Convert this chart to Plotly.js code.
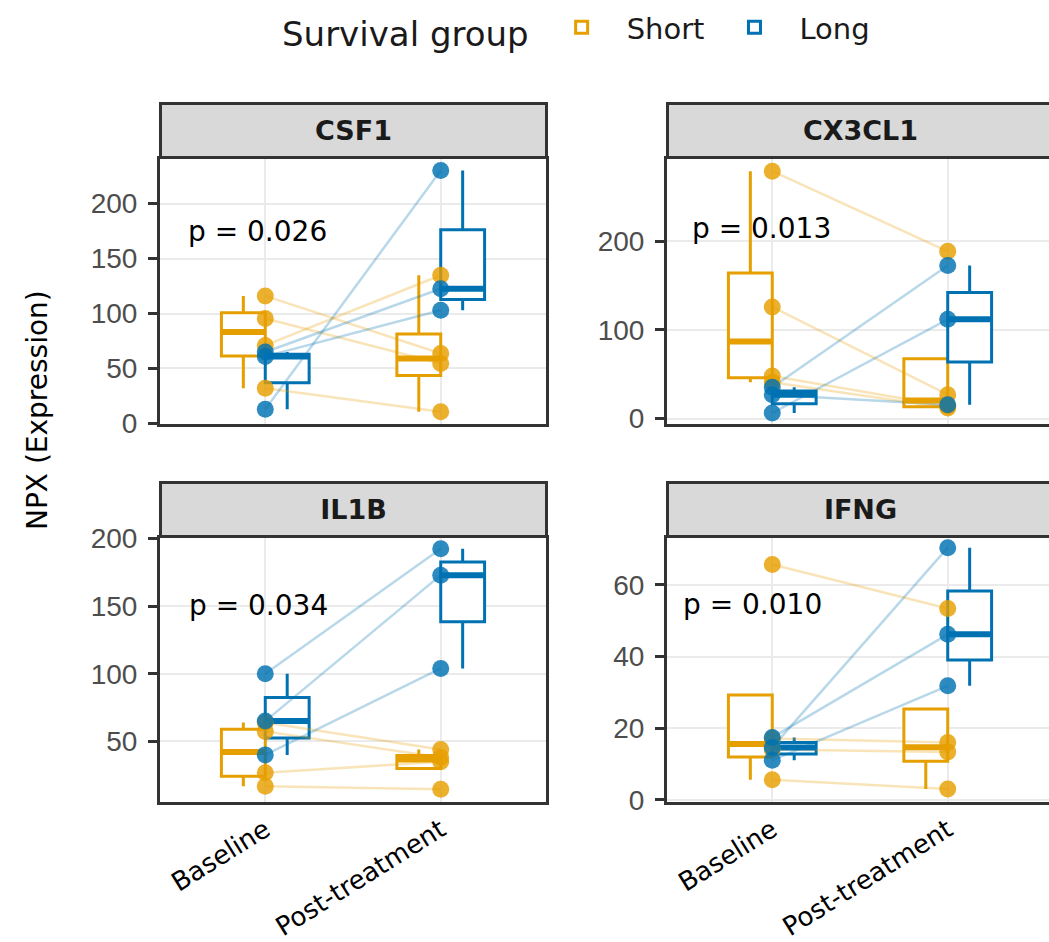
<!DOCTYPE html>
<html>
<head>
<meta charset="utf-8">
<script src="https://cdn.plot.ly/plotly-3.0.1.min.js"></script>
<style>
html,body{margin:0;padding:0;overflow:hidden;background:#fff;}
#chart{width:1056px;height:942px;}
</style>
</head>
<body>
<div id="chart"></div>
<script>
// ---------------- data ----------------
const timepoints = ['Baseline', 'Post-treatment'];
const groups = ['Short', 'Long'];
const genes = ['CSF1', 'CX3CL1', 'IL1B', 'IFNG'];
const pLabels = ['p = 0.026', 'p = 0.013', 'p = 0.034', 'p = 0.010'];

// paired values (same index = same patient)
const CSF1_short_baseline = [116, 95.5, 71, 32];
const CSF1_short_post     = [63.6, 54.5, 134.8, 10.6];
const CSF1_long_baseline  = [13, 61, 65];
const CSF1_long_post      = [230, 103, 122.5];

const CX3CL1_short_baseline = [279, 126, 48, 41];
const CX3CL1_short_post     = [188.7, 27, 14, 12];
const CX3CL1_long_baseline  = [35.5, 6.4, 27];
const CX3CL1_long_post      = [172.6, 112, 15.8];

const IL1B_short_baseline = [64, 57.4, 26.7, 16.8];
const IL1B_short_post     = [44, 38, 35, 14.5];
const IL1B_long_baseline  = [100, 65, 40];
const IL1B_long_post      = [192.6, 173, 104];

const IFNG_short_baseline = [65.7, 17.1, 14, 5.6];
const IFNG_short_post     = [53.4, 16, 13.3, 3.0];
const IFNG_long_baseline  = [14.6, 17.4, 11];
const IFNG_long_post      = [70.4, 46.2, 31.8];

const yTickStep = [50, 100, 50, 20];

// ---------------- style / layout config ----------------
const W = 1056, H = 942;
const colors = {Short: '#E69F00', Long: '#0072B2'};
const pointColors = {Short: 'rgba(230,159,0,0.82)', Long: 'rgba(0,114,178,0.82)'};
const lineColors = {Short: 'rgba(230,159,0,0.28)', Long: 'rgba(0,114,178,0.28)'};
const colPx = [[160, 546], [667, 1053]];
const rowPx = [[158.5, 424], [538, 801.5]];
const yRanges = [[-0.5, 241], [-6, 293.3], [5.5, 200.5], [-0.5, 73.1]];
const pPos = [[0.548, 174.8], [0.529, 214], [0.553, 150.8], [0.482, 54.6]];
const dodge = 0.125, boxW = 0.25;

const dataByGene = {
  CSF1:   {Short: [CSF1_short_baseline, CSF1_short_post], Long: [CSF1_long_baseline, CSF1_long_post]},
  CX3CL1: {Short: [CX3CL1_short_baseline, CX3CL1_short_post], Long: [CX3CL1_long_baseline, CX3CL1_long_post]},
  IL1B:   {Short: [IL1B_short_baseline, IL1B_short_post], Long: [IL1B_long_baseline, IL1B_long_post]},
  IFNG:   {Short: [IFNG_short_baseline, IFNG_short_post], Long: [IFNG_long_baseline, IFNG_long_post]}
};

// type-7 quantile + Tukey whiskers (as ggplot's geom_boxplot)
function q7(s, p) {
  const h = (s.length - 1) * p, lo = Math.floor(h);
  const hi = Math.min(lo + 1, s.length - 1);
  return s[lo] + (h - lo) * (s[hi] - s[lo]);
}
function boxStats(v) {
  const s = v.slice().sort((a, b) => a - b);
  const q1 = q7(s, 0.25), med = q7(s, 0.5), q3 = q7(s, 0.75);
  const iqr = q3 - q1;
  const inside = s.filter(x => x >= q1 - 1.5 * iqr && x <= q3 + 1.5 * iqr);
  return {q1, med, q3, lo: Math.min(...inside), hi: Math.max(...inside)};
}

const annotations = [];
const layout = {
  width: W, height: H,
  margin: {l: 0, r: 0, t: 0, b: 0, pad: 0},
  paper_bgcolor: '#fff', plot_bgcolor: '#fff',
  showlegend: true,
  legend: {
    orientation: 'h', x: 280 / W, xanchor: 'left', y: 1 - 2 / H, yanchor: 'top',
    title: {text: 'Survival group', side: 'left', font: {family: 'DejaVu Sans, sans-serif', size: 34, color: '#1a1a1a'}},
    font: {family: 'DejaVu Sans, sans-serif', size: 29, color: '#1a1a1a'},
    itemwidth: 80, tracegroupgap: 0
  },
  annotations: annotations
};

// line traces first, then boxes, then points
const lineTr = [], boxTr = [], ptTr = [];
genes.forEach((g, i) => {
  const row = Math.floor(i / 2), col = i % 2;
  const ax = i === 0 ? '' : String(i + 1);
  const xa = 'x' + ax, ya = 'y' + ax;
  layout['xaxis' + ax] = {
    domain: [colPx[col][0] / W, colPx[col][1] / W],
    anchor: ya, range: [0.4, 2.6], tickvals: [1, 2], ticktext: timepoints,
    showticklabels: row === 1, tickangle: -32,
    tickfont: {family: 'DejaVu Sans, sans-serif', size: 26, color: '#000'},
    ticks: '', showgrid: true, gridcolor: '#EBEBEB', gridwidth: 2,
    zeroline: false, showline: true, mirror: true, linecolor: '#333333', linewidth: 3,
    fixedrange: true
  };
  layout['yaxis' + ax] = {
    domain: [1 - rowPx[row][1] / H, 1 - rowPx[row][0] / H],
    anchor: xa, range: yRanges[i], dtick: yTickStep[i], tick0: 0,
    tickfont: {family: 'Liberation Sans, Arial, sans-serif', size: 28, color: '#4D4D4D'},
    ticks: 'outside', ticklen: 9, tickwidth: 3, tickcolor: '#333333', ticklabelstandoff: 5,
    showgrid: true, gridcolor: '#EBEBEB', gridwidth: 2,
    zeroline: false, showline: true, mirror: true, linecolor: '#333333', linewidth: 3,
    fixedrange: true
  };
  // strip
  annotations.push({
    xref: xa + ' domain', yref: ya + ' domain', x: 0.5, y: 1, xanchor: 'center', yanchor: 'bottom',
    text: '<b>' + g + '</b>', showarrow: false, width: colPx[col][1] - colPx[col][0] - 3, height: 51,
    bgcolor: '#D9D9D9', bordercolor: '#333333', borderwidth: 3, borderpad: 0,
    font: {family: 'DejaVu Sans, sans-serif', size: 27, color: '#1a1a1a'}
  });
  // p-value
  annotations.push({
    xref: xa, yref: ya, x: pPos[i][0], y: pPos[i][1], xanchor: 'left', yanchor: 'middle',
    text: pLabels[i], showarrow: false,
    font: {family: 'DejaVu Sans, sans-serif', size: 28, color: '#000'}
  });

  groups.forEach((grp, gi) => {
    const [base, post] = dataByGene[g][grp];
    // paired lines
    const lx = [], ly = [];
    base.forEach((b, k) => { lx.push(1, 2, null); ly.push(b, post[k], null); });
    lineTr.push({type: 'scatter', mode: 'lines', x: lx, y: ly, xaxis: xa, yaxis: ya,
      line: {color: lineColors[grp], width: 2.5}, hoverinfo: 'skip', showlegend: false});
    // boxes
    const off = gi === 0 ? -dodge : dodge;
    const st = [boxStats(base), boxStats(post)];
    boxTr.push({
      type: 'box', name: grp, legendgroup: grp, showlegend: i === 0,
      x: [1 + off, 2 + off], q1: st.map(s => s.q1), median: st.map(s => s.med), q3: st.map(s => s.q3),
      lowerfence: st.map(s => s.lo), upperfence: st.map(s => s.hi),
      width: boxW, whiskerwidth: 0, boxpoints: false,
      line: {color: colors[grp], width: 3}, fillcolor: '#ffffff',
      xaxis: xa, yaxis: ya
    });
    // thick median
    const mx = [], my = [];
    st.forEach((s, t) => { mx.push(t + 1 + off - boxW / 2, t + 1 + off + boxW / 2, null); my.push(s.med, s.med, null); });
    boxTr.push({type: 'scatter', mode: 'lines', x: mx, y: my, xaxis: xa, yaxis: ya,
      line: {color: colors[grp], width: 6}, hoverinfo: 'skip', showlegend: false});
    // points
    const px = [], py = [];
    base.forEach(v => { px.push(1); py.push(v); });
    post.forEach(v => { px.push(2); py.push(v); });
    ptTr.push({type: 'scatter', mode: 'markers', x: px, y: py, xaxis: xa, yaxis: ya,
      marker: {color: pointColors[grp], size: 17, line: {width: 0}}, showlegend: false, hoverinfo: 'y'});
  });
});

// y-axis title
annotations.push({
  xref: 'paper', yref: 'paper', x: 37 / W, y: 1 - 410 / H, xanchor: 'center', yanchor: 'middle',
  text: 'NPX (Expression)', textangle: -90, showarrow: false,
  font: {family: 'DejaVu Sans, sans-serif', size: 28, color: '#000'}
});

Plotly.newPlot('chart', lineTr.concat(boxTr, ptTr), layout, {displayModeBar: false, staticPlot: true});
</script>
</body>
</html>
